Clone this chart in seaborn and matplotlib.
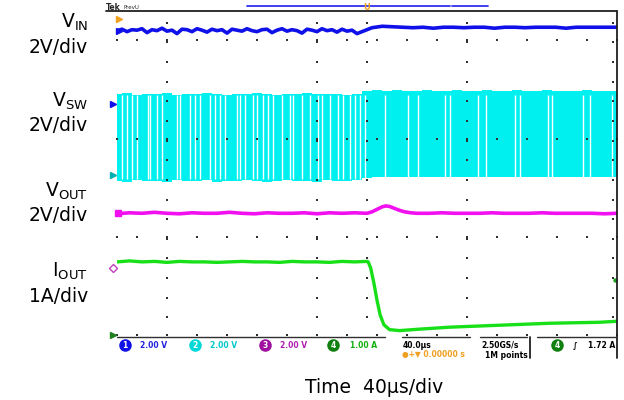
import numpy as np
import pandas as pd
import matplotlib
matplotlib.use("Agg")
import matplotlib.pyplot as plt
import seaborn as sns

sns.set_theme(style="white")
plt.rcParams['font.family'] = ['DejaVu Sans']
plt.rcParams['mathtext.default'] = 'regular'

# ---- data (time in microseconds, vertical in screen grid units) ----
vin_before = [6.24, 6.27, 6.22, 6.26, 6.25, 6.28, 6.20, 6.26, 6.24, 6.29, 6.23, 6.25,
              6.18, 6.27, 6.26, 6.22, 6.28, 6.25, 6.21, 6.27, 6.24, 6.26, 6.19, 6.27,
              6.25, 6.23, 6.28, 6.24, 6.22, 6.26, 6.27, 6.20, 6.25, 6.28, 6.23, 6.26,
              6.24, 6.19, 6.27, 6.25, 6.22, 6.28, 6.24, 6.26, 6.21, 6.27, 6.23, 6.25,
              6.18, 6.22, 6.26]
vin_after = [6.30, 6.33, 6.32, 6.31, 6.30, 6.31, 6.29, 6.31, 6.31, 6.30, 6.31, 6.31,
             6.29, 6.31, 6.31, 6.30, 6.31, 6.31, 6.31, 6.29, 6.31, 6.31, 6.31, 6.31, 6.31]

vsw_top = [4.94, 4.97, 4.93, 4.96, 4.95, 4.98, 4.93, 4.96, 4.94, 4.97, 4.95, 4.93,
           4.96, 4.94, 4.97, 4.95, 4.93, 4.96, 4.94, 4.97, 4.95, 4.94, 4.96, 4.93,
           4.95, 5.01, 5.03, 5.02, 5.03, 5.02, 5.02, 5.03, 5.02, 5.02, 5.03, 5.02,
           5.02, 5.03, 5.02, 5.02, 5.03, 5.02, 5.02, 5.03, 5.02, 5.02, 5.02, 5.03,
           5.02, 5.02, 5.02]
vsw_bottom = [3.18, 3.16, 3.19, 3.17, 3.18, 3.16, 3.19, 3.18, 3.17, 3.19, 3.16, 3.18,
              3.17, 3.19, 3.18, 3.16, 3.18, 3.19, 3.17, 3.18, 3.16, 3.19, 3.18, 3.17,
              3.19, 3.24, 3.26, 3.25, 3.26, 3.25, 3.26, 3.25, 3.26, 3.26, 3.25, 3.26,
              3.26, 3.25, 3.26, 3.26, 3.25, 3.26, 3.26, 3.25, 3.26, 3.26, 3.25, 3.26,
              3.26, 3.25, 3.26]
vsw_gaps = [-196, -192, -188, -184, -175, -174, -168, -164, -152, -150, -142, -138,
            -134, -126, -122, -118, -114, -104, -102, -98, -91, -88, -83, -79, -75,
            -68, -62, -59, -52, -46, -39, -36, -30, -23, -19, -14, -10, -6, -2,
            14, 33, 41, 62, 66, 89, 95, 118, 122, 145, 148, 173, 178, 196]

vout_t = [-200, -190, -180, -170, -160, -150, -140, -130, -120, -110, -100, -90, -80,
          -70, -60, -50, -40, -30, -20, -10, 0, 4, 8, 12, 15, 18, 22, 26, 30, 35, 40,
          50, 60, 70, 80, 90, 100, 110, 120, 130, 140, 150, 160, 170, 180, 190, 200]
vout_v = [2.51, 2.53, 2.52, 2.54, 2.52, 2.51, 2.53, 2.52, 2.52, 2.54, 2.52, 2.51,
          2.53, 2.52, 2.52, 2.53, 2.51, 2.53, 2.52, 2.53, 2.52, 2.55, 2.60, 2.65, 2.67,
          2.66, 2.62, 2.58, 2.55, 2.53, 2.52, 2.52, 2.53, 2.52, 2.52, 2.52, 2.53, 2.52,
          2.52, 2.52, 2.53, 2.52, 2.52, 2.52, 2.52, 2.51, 2.52]

iout_t = [-200, -190, -180, -170, -160, -150, -140, -130, -120, -110, -100, -90, -80,
          -70, -60, -50, -40, -30, -20, -10, 0, 1, 3, 5.5, 8, 10.5, 13.5, 18, 26, 42,
          66, 106, 146, 186, 200]
iout_v = [1.53, 1.55, 1.53, 1.54, 1.52, 1.54, 1.53, 1.53, 1.52, 1.53, 1.54, 1.53,
          1.53, 1.52, 1.54, 1.53, 1.53, 1.52, 1.54, 1.53, 1.54, 1.53, 1.40, 1.10, 0.75,
          0.45, 0.25, 0.15, 0.13, 0.16, 0.20, 0.24, 0.28, 0.30, 0.32]
iout_cursor = (198.4, 1.16)

channel_names = ["V$_{IN}$", "V$_{SW}$", "V$_{OUT}$", "I$_{OUT}$"]
channel_scales = ["2V/div", "2V/div", "2V/div", "1A/div"]
time_label = "Time  40\u03bcs/div"
fs_label = 13.5

# ---- figure ----
W, H = 624, 400
fig = plt.figure(figsize=(W / 100, H / 100), dpi=100)
fig.patch.set_facecolor("white")
ax = fig.add_axes([117 / W, (400 - 337) / H, 500 / W, 324 / H])
ax.set_xlim(-200, 200)
ax.set_ylim(0, 6.6)
ax.axis("off")

BLUE = "#1010e8"
CYAN = "#00f0f0"
MAG = "#f010f0"
GREEN = "#18e018"

# switching node: cyan block with white gaps
t_env = np.linspace(-200, 200, len(vsw_top))
ax.fill_between(t_env, vsw_bottom, vsw_top, color=CYAN, lw=0, step="mid", zorder=2)
ax.vlines(vsw_gaps, 3.22, 4.92, color="white", lw=1.0, zorder=3)

# VIN
t_vb = np.linspace(-200, 0, len(vin_before))
t_va = np.linspace(4, 200, len(vin_after))
df_vin = pd.DataFrame({"t": np.concatenate([t_vb, t_va]),
                       "v": vin_before + vin_after})
sns.lineplot(data=df_vin, x="t", y="v", ax=ax, color=BLUE, lw=2.6,
             estimator=None, sort=False, zorder=4)

# VOUT
sns.lineplot(x=vout_t, y=vout_v, ax=ax, color=MAG, lw=2.6,
             estimator=None, sort=False, zorder=4)

# IOUT
sns.lineplot(x=iout_t, y=iout_v, ax=ax, color=GREEN, lw=2.4,
             estimator=None, sort=False, zorder=4)
ax.scatter([iout_cursor[0]], [iout_cursor[1]], s=10, color="#20a020", marker="o",
           lw=0, zorder=5, clip_on=False)

# grid dots
row_t = [-200] + list(np.arange(-184, 201, 24))
for r in [0, 2, 4, 6]:
    ax.scatter(row_t, [r + 0.04] * len(row_t), s=2.0, color="#303030",
               marker="s", lw=0, zorder=6, clip_on=False)
col_u = list(np.arange(0.4, 6.61, 0.4))
for c in [-160, -40, 0, 80, 197]:
    ax.scatter([c] * len(col_u), col_u, s=2.0, color="#303030",
               marker="s", lw=0, zorder=6, clip_on=False)

# frame
kw = dict(color="#202020", lw=1.3, clip_on=False, zorder=7)
ax.plot([-209, 200], [6.64, 6.64], **kw)
ax.plot([200, 200], [6.64, -0.43], **kw)
for a, b in [(-200, 14.4), (28, 82), (90, 128), (136, 200)]:
    ax.plot([a, b], [0, 0], color="#303030", lw=1.0, clip_on=False, zorder=7)
ax.plot([130.4, 130.4], [0, -0.43], **kw)
# record bar and trigger marker on top
ax.plot([-96, 66.4], [6.74, 6.74], color="#3030f0", lw=1.3, clip_on=False)
ax.plot([68, 96.8], [6.74, 6.74], color="#3030f0", lw=1.3, clip_on=False)
ax.text(0, 6.72, "U", color="#f0a020", fontsize=6, ha="center", va="center",
        fontweight="bold")


def px(x, y):
    return x / W, 1 - y / H


# left side labels
name_y = [28, 107, 197, 277]
scale_y = [53, 131, 221, 302]
for s, yb in zip(channel_names, name_y):
    fig.text(*px(88, yb), s, ha="right", va="baseline", fontsize=fs_label, color="black")
for s, yb in zip(channel_scales, scale_y):
    fig.text(*px(88, yb), s, ha="right", va="baseline", fontsize=fs_label, color="black")
fig.text(*px(305, 393), time_label, ha="left", va="baseline",
         fontsize=fs_label, color="black")

# scope header
fig.text(*px(106, 10), "Tek", fontsize=5.5, fontweight="bold", va="baseline")
fig.text(*px(123, 9), "PrevU", fontsize=4, va="baseline")

# channel markers on the left
mk = [(">", 119, 19, "#f0a020"), (">", 119, 31, BLUE), (">", 113, 104, BLUE),
      (">", 113, 175, "#00b0b0"), ("s", 118, 213, MAG), ("D", 113, 268, "#c040c0"),
      (">", 113, 335, "#208020")]
for m, x, y, c in mk:
    fc = "none" if m == "D" else c
    fig.lines.append(matplotlib.lines.Line2D([x / W], [1 - y / H], marker=m,
                     ms=4, color=c, mfc=fc, transform=fig.transFigure))

# readout at the bottom
ro_font = dict(fontsize=5.5, va="center", fontweight="bold")
circles = [(125, 345, "#1010e8", "1"), (195, 345, "#00d8d8", "2"),
           (265, 345, "#a010a0", "3"), (333, 345, "#108010", "4"),
           (557, 345, "#108010", "4")]
for x, y, c, n in circles:
    fig.lines.append(matplotlib.lines.Line2D([x / W], [1 - y / H], marker="o",
                     ms=8, color=c, transform=fig.transFigure))
    fig.text(*px(x, y), n, color="white", ha="center", **ro_font)
texts = [(140, 345, "2.00 V", "#2020e0"), (210, 345, "2.00 V", "#00c8c8"),
         (280, 345, "2.00 V", "#b020b0"), (350, 345, "1.00 A", "#10b010"),
         (403, 345, "40.0\u03bcs", "black"), (402, 355, "\u25cf+\u25bc 0.00000 s", "#f0a020"),
         (481, 345, "2.50GS/s", "black"), (485, 355, "1M points", "black"),
         (573, 345, "\u222b", "black"), (588, 345, "1.72 A", "black")]
for x, y, s, c in texts:
    fig.text(*px(x, y), s, color=c, ha="left", **ro_font)

fig.savefig("out.png", dpi=100, facecolor="white")
